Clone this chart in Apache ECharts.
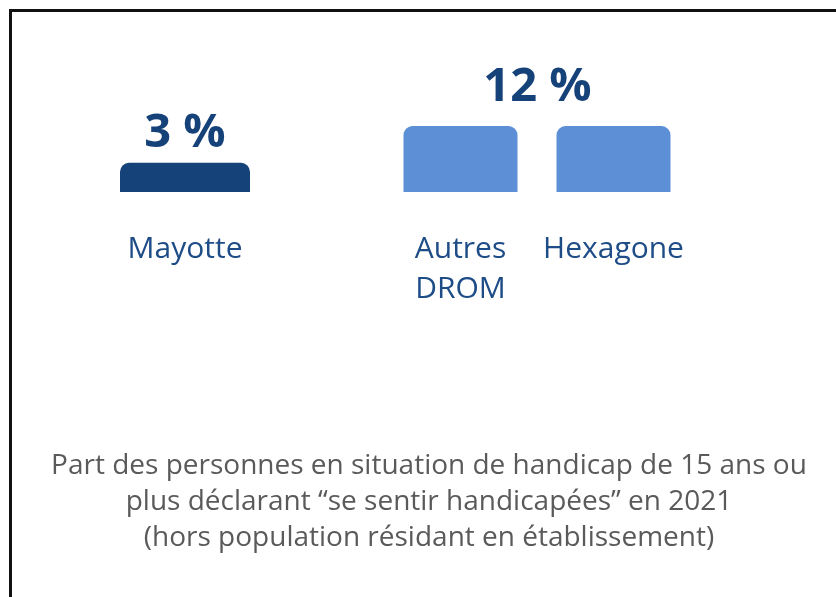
<!DOCTYPE html>
<html>
<head>
<meta charset="utf-8">
<title>Handicap ressenti</title>
<script src="https://cdn.jsdelivr.net/npm/echarts@6/dist/echarts.min.js"></script>
<style>
  body { margin: 0; background: #fff; }
  #chart { position: absolute; left: 0; top: 0; width: 836px; height: 597px; }
  /* cadre noir en haut et à gauche */
  #frame { position: absolute; left: 9px; top: 9px; width: 840px; height: 600px;
           border-left: 3px solid #111; border-top: 3px solid #111; pointer-events: none; }
</style>
</head>
<body>
<div id="chart"></div>
<div id="frame"></div>
<script>
// données
var categories = ['Mayotte', 'Autres\nDROM', 'Hexagone'];
var shares = [3, 12, 12];
var noteLines = [
    'Part des personnes en situation de handicap de 15 ans ou',
    'plus déclarant “se sentir handicapées” en 2021',
    '(hors population résidant en établissement)'
];

var navy = '#16427a';
var lightBlue = '#5c8fd6';
var labelBlue = '#1d4c87';

var myChart = echarts.init(document.getElementById('chart'));

var valueLabel = {
    show: true,
    position: 'top',
    distance: 6,
    formatter: '{c} %',
    fontFamily: 'Open Sans',
    fontWeight: 'bold',
    fontSize: 47,
    color: navy
};

function xAxisFor(gridIndex, cats) {
    return {
        type: 'category',
        gridIndex: gridIndex,
        data: cats,
        axisLine: { show: false },
        axisTick: { show: false },
        axisLabel: {
            interval: 0,
            margin: 37,
            fontFamily: 'Open Sans',
            fontSize: 30,
            lineHeight: 40,
            color: labelBlue
        }
    };
}

function yAxisFor(gridIndex) {
    return {
        type: 'log',
        gridIndex: gridIndex,
        min: 1,
        max: 12,
        show: false
    };
}

myChart.setOption({
    animation: false,
    grid: [
        { left: 100, width: 170, top: 126, bottom: 405 },
        { left: 384, width: 306, top: 126, bottom: 405 }
    ],
    xAxis: [xAxisFor(0, categories.slice(0, 1)), xAxisFor(1, categories.slice(1))],
    yAxis: [yAxisFor(0), yAxisFor(1)],
    series: [
        {
            type: 'bar',
            xAxisIndex: 0,
            yAxisIndex: 0,
            barWidth: 130,
            data: shares.slice(0, 1),
            itemStyle: { color: navy, borderRadius: [9, 9, 0, 0] },
            label: valueLabel
        },
        {
            type: 'bar',
            xAxisIndex: 1,
            yAxisIndex: 1,
            barWidth: 114,
            // une seule étiquette "12 %" centrée au-dessus des deux barres
            data: shares.slice(1).map(function (v, i) {
                return i === 0
                    ? { value: v, label: Object.assign({}, valueLabel, { offset: [77, -9] }) }
                    : { value: v, label: { show: false } };
            }),
            itemStyle: { color: lightBlue, borderRadius: [9, 9, 0, 0] }
        }
    ],
    graphic: noteLines.map(function (t, i) {
        return {
            type: 'text',
            x: 429,
            y: 466 + i * 36,
            style: {
                text: t,
                textAlign: 'center',
                textVerticalAlign: 'middle',
                fontFamily: 'Open Sans',
                fontSize: 28,
                fill: '#5a5a5a'
            }
        };
    })
});
</script>
</body>
</html>
